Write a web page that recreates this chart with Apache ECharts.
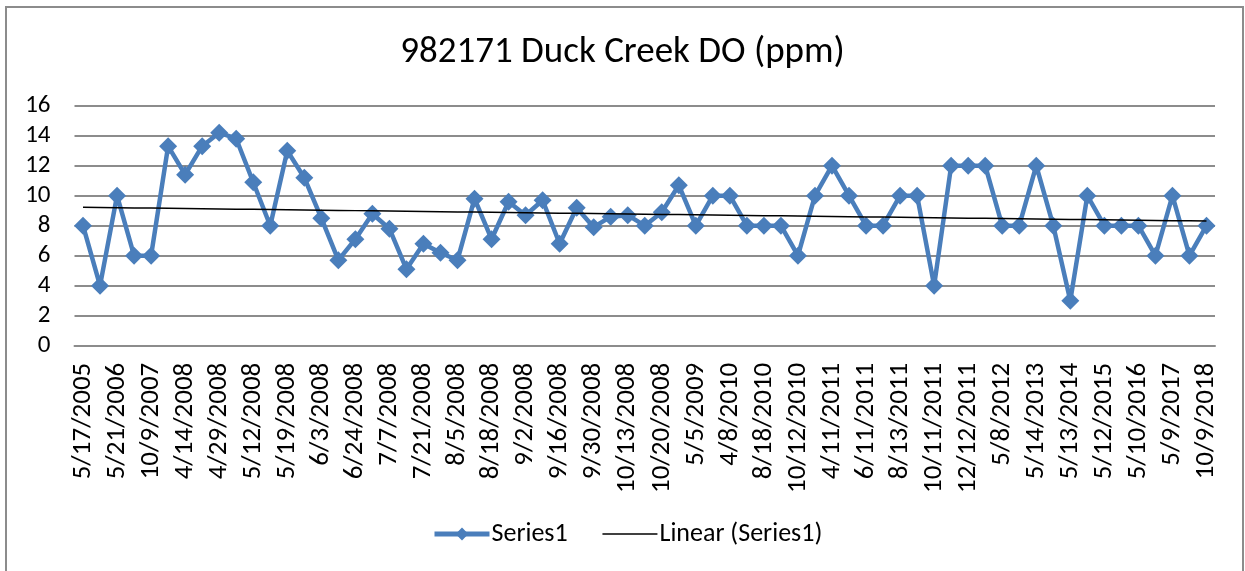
<!DOCTYPE html>
<html>
<head>
<meta charset="utf-8">
<script src="https://cdn.jsdelivr.net/npm/echarts@6/dist/echarts.min.js"></script>
<style>
  html, body { margin: 0; padding: 0; background: #fff; }
  #chart { width: 1245px; height: 571px; }
</style>
</head>
<body>
<div id="chart"></div>
<script>
// Dates printed under every second sample on the category axis
const labelledDates = [
  '5/17/2005', '5/21/2006', '10/9/2007', '4/14/2008', '4/29/2008', '5/12/2008',
  '5/19/2008', '6/3/2008', '6/24/2008', '7/7/2008', '7/21/2008', '8/5/2008',
  '8/18/2008', '9/2/2008', '9/16/2008', '9/30/2008', '10/13/2008', '10/20/2008',
  '5/5/2009', '4/8/2010', '8/18/2010', '10/12/2010', '4/11/2011', '6/11/2011',
  '8/13/2011', '10/11/2011', '12/12/2011', '5/8/2012', '5/14/2013', '5/13/2014',
  '5/12/2015', '5/10/2016', '5/9/2017', '10/9/2018'
];

// Dissolved oxygen readings (ppm), one per sample
const doValues = [
  8, 4, 10, 6, 6, 13.3, 11.4, 13.3, 14.2, 13.8,
  10.9, 8, 13, 11.2, 8.5, 5.7, 7.1, 8.8, 7.8, 5.1,
  6.8, 6.2, 5.7, 9.8, 7.1, 9.6, 8.7, 9.7, 6.8, 9.2,
  7.9, 8.6, 8.7, 8, 8.9, 10.7, 8, 10, 10, 8,
  8, 8, 6, 10, 12, 10, 8, 8, 10, 10,
  4, 12, 12, 12, 8, 8, 12, 8, 3, 10,
  8, 8, 8, 6, 10, 6, 8
];

const yTicks = { min: 0, max: 16, interval: 2 };

// Category list: unlabelled samples sit between the printed dates
const categories = doValues.map((_, i) => (i % 2 === 0 ? labelledDates[i / 2] : ''));

// Least-squares linear trend over the sample index
function linearTrend(values) {
  const n = values.length;
  let sx = 0, sy = 0, sxx = 0, sxy = 0;
  values.forEach((y, x) => { sx += x; sy += y; sxx += x * x; sxy += x * y; });
  const slope = (n * sxy - sx * sy) / (n * sxx - sx * sx);
  const intercept = (sy - slope * sx) / n;
  return values.map((_, x) => +(intercept + slope * x).toFixed(4));
}
const trendValues = linearTrend(doValues);

const FONT = 'Carlito, Calibri, Lato, sans-serif';
const BLUE = '#4a7ebb';
const chart = echarts.init(document.getElementById('chart'));

chart.setOption({
  animation: false,
  backgroundColor: '#ffffff',
  title: {
    text: '982171 Duck Creek DO (ppm)',
    left: 'center',
    top: 29,
    textStyle: { fontFamily: FONT, fontSize: 37, fontWeight: 'normal', color: '#000' }
  },
  graphic: [{
    type: 'rect',
    shape: { x: 6, y: 7, width: 1237, height: 600 },
    style: { fill: null, stroke: '#8c8c8c', lineWidth: 2 },
    silent: true
  }],
  legend: {
    top: 521,
    left: 432,
    padding: 0,
    itemWidth: 55,
    itemHeight: 16,
    itemGap: 34,
    textStyle: { fontFamily: FONT, fontSize: 26, color: '#000', padding: [0, 0, 0, -3] },
    data: [
      { name: 'Series1', lineStyle: { width: 5 } },
      { name: 'Linear (Series1)', itemStyle: { opacity: 0 }, lineStyle: { width: 1.5 } }
    ]
  },
  grid: {
    left: 74.5,
    right: 30,
    top: 105.7,
    bottom: 225.3,
    outerBoundsMode: 'none'
  },
  xAxis: {
    type: 'category',
    data: categories,
    boundaryGap: true,
    axisLine: { show: true, lineStyle: { color: '#8c8c8c', width: 2 } },
    axisTick: { show: false },
    axisLabel: {
      interval: 0,
      rotate: 90,
      margin: 17,
      fontFamily: FONT,
      fontSize: 27,
      color: '#000'
    },
    splitLine: { show: false }
  },
  yAxis: {
    type: 'value',
    min: yTicks.min,
    max: yTicks.max,
    interval: yTicks.interval,
    axisLine: { show: false },
    axisTick: { show: false },
    axisLabel: { margin: 24, fontFamily: FONT, fontSize: 25, color: '#000' },
    splitLine: { show: true, lineStyle: { color: '#8c8c8c', width: 2 } }
  },
  series: [
    {
      name: 'Series1',
      type: 'line',
      data: doValues,
      symbol: 'diamond',
      symbolSize: 18,
      showAllSymbol: true,
      color: BLUE,
      lineStyle: { width: 4.5, color: BLUE },
      itemStyle: { color: BLUE },
      z: 2
    },
    {
      name: 'Linear (Series1)',
      type: 'line',
      data: trendValues,
      symbol: 'none',
      showSymbol: false,
      color: '#000',
      lineStyle: { width: 1.5, color: '#000' },
      z: 3
    }
  ]
});
</script>
</body>
</html>
